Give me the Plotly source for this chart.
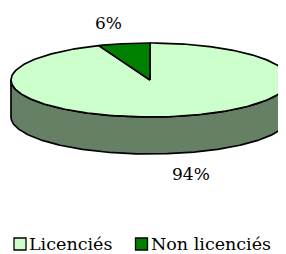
import numpy as np
import plotly.graph_objects as go

categories = ["Licenciés", "Non licenciés"]
values = [94, 6]
labels = ["94%", "6%"]
top_colors = ["#CCFFCC", "#008000"]
side_colors = ["#668066", "#004000"]

# page is drawn with an 8px body margin; work in page pixel coordinates
OFF = 8
W, H = 286, 254
cx, cy, rx, ry, depth = 150, 80, 139, 37, 37
FONT = "DejaVu Serif"

def pt(theta, k=1.0, dz=0.0):
    # theta: degrees counterclockwise from 12 o'clock
    t = np.radians(theta)
    return cx - k * rx * np.sin(t), cy - k * ry * np.cos(t) + dz

fig = go.Figure()

total = sum(values)
spans = {}
start = 0.0
for i in [1, 0]:
    ang = values[i] / total * 360
    spans[i] = (start, start + ang)
    start += ang

# side wall (front half: theta 90..270)
for i in [0, 1]:
    a0, a1 = spans[i]
    lo, hi = max(a0, 90), min(a1, 270)
    if hi > lo:
        th = np.linspace(lo, hi, 240)
        xt, yt = pt(th)
        xb, yb = pt(th[::-1], dz=depth)
        xs = np.concatenate([xt, xb, xt[:1]])
        ys = np.concatenate([yt, yb, yt[:1]])
        fig.add_trace(go.Scatter(x=xs, y=ys, mode="lines", fill="toself",
                                 fillcolor=side_colors[i],
                                 line=dict(color="black", width=1.7),
                                 showlegend=False, hoverinfo="skip"))

# top faces
for i in [0, 1]:
    a0, a1 = spans[i]
    th = np.linspace(a0, a1, 360)
    xa, ya = pt(th)
    xs = np.concatenate([[cx], xa, [cx]])
    ys = np.concatenate([[cy], ya, [cy]])
    fig.add_trace(go.Scatter(x=xs, y=ys, mode="lines", fill="toself",
                             fillcolor=top_colors[i],
                             line=dict(color="black", width=1.7),
                             showlegend=False, hoverinfo="skip"))

# percentage labels
for i in [0, 1]:
    a0, a1 = spans[i]
    mid = (a0 + a1) / 2
    front = 90 < (mid % 360) < 270
    x, y = pt(mid, k=1.58, dz=depth if front else 0)
    fig.add_annotation(x=x, y=y, text=labels[i], showarrow=False,
                       font=dict(family=FONT, size=17, color="black"))

# legend row
leg_y = 244
leg_x = [20, 141.5]
for i in [0, 1]:
    fig.add_trace(go.Scatter(x=[leg_x[i]], y=[leg_y], mode="markers", name=categories[i],
                             marker=dict(symbol="square", size=12, color=top_colors[i],
                                         line=dict(color="black", width=1.3)),
                             showlegend=False, hoverinfo="skip"))
    fig.add_annotation(x=leg_x[i] + 7, y=leg_y, text=categories[i], showarrow=False,
                       xanchor="left", yanchor="middle",
                       font=dict(family=FONT, size=17.5, color="black"))

fig.update_layout(
    width=W - OFF, height=H - OFF, margin=dict(l=0, r=0, t=0, b=0),
    paper_bgcolor="white", plot_bgcolor="white",
    xaxis=dict(range=[OFF, W], visible=False, fixedrange=True),
    yaxis=dict(range=[H, OFF], visible=False, fixedrange=True),
    showlegend=False,
)
fig.write_html("out.html")
